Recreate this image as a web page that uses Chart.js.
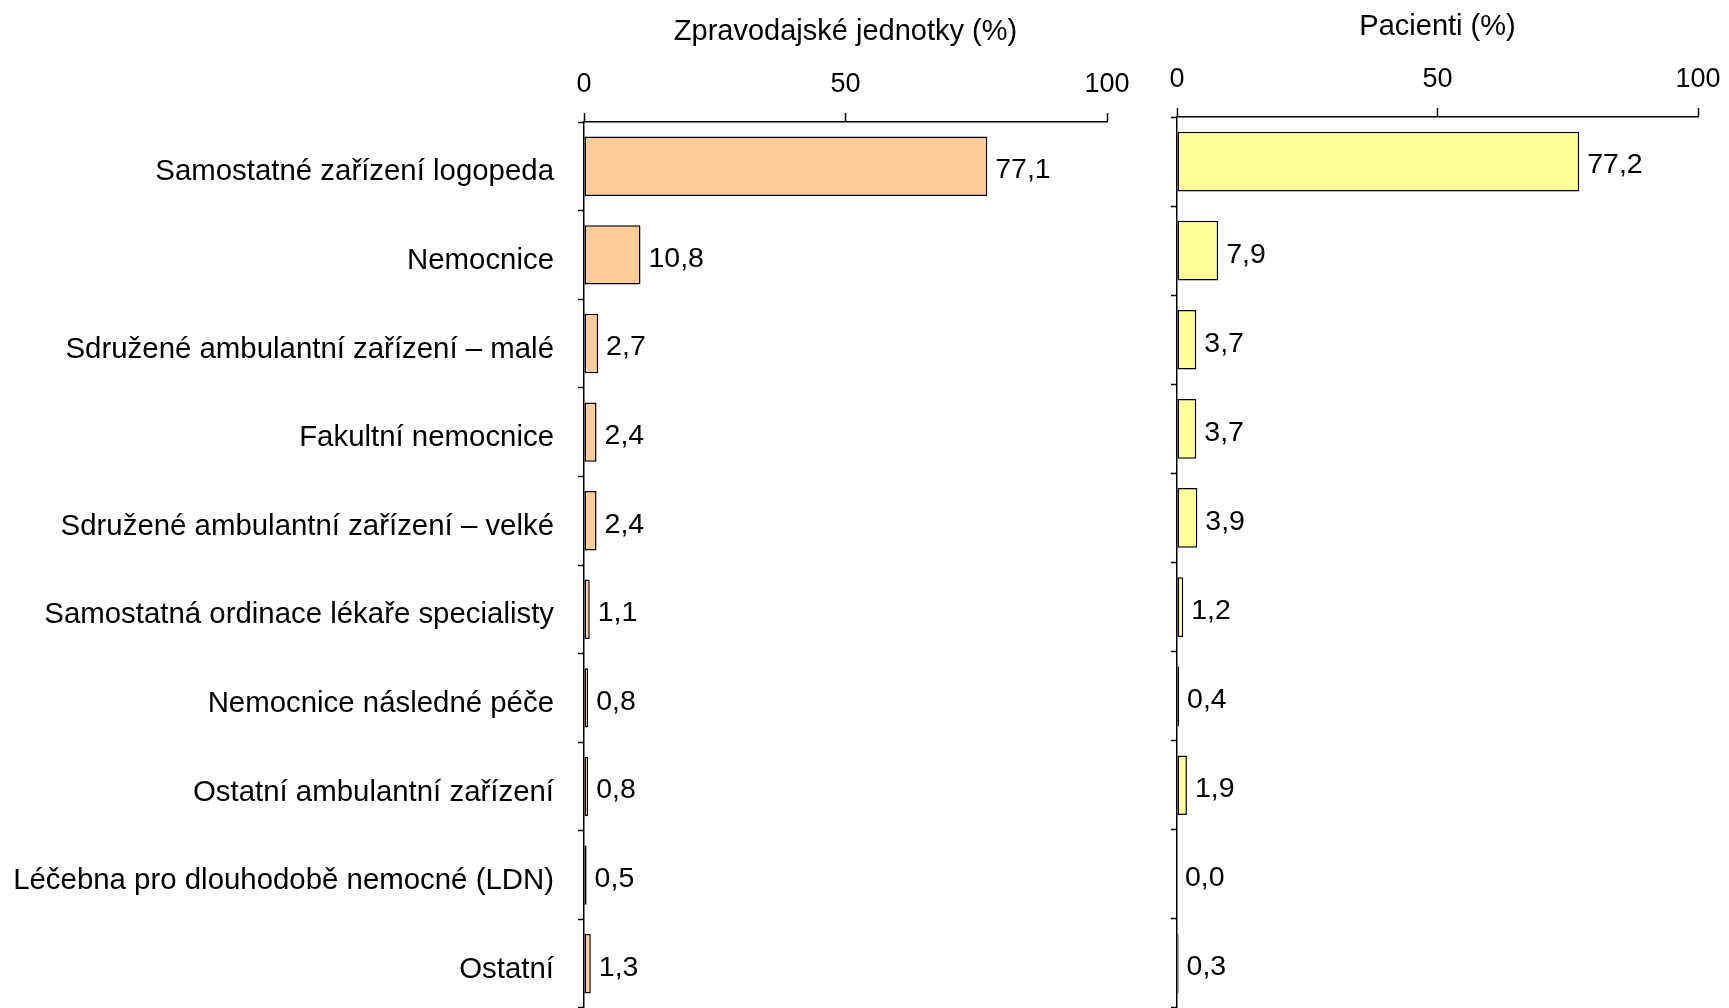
<!DOCTYPE html>
<html>
<head>
<meta charset="utf-8">
<script src="https://cdn.jsdelivr.net/npm/chart.js@4/dist/chart.umd.min.js"></script>
<style>
  html, body { margin: 0; padding: 0; background: #fff; }
  #wrap { position: relative; width: 1729px; height: 1008px; overflow: hidden; }
  canvas { position: absolute; left: 0; top: 0; }
</style>
</head>
<body>
<div id="wrap">
  <canvas id="units" width="1729" height="1008"></canvas>
  <canvas id="patients" width="1729" height="1008"></canvas>
</div>
<script>
const categories = [
    'Samostatné zařízení logopeda',
    'Nemocnice',
    'Sdružené ambulantní zařízení – malé',
    'Fakultní nemocnice',
    'Sdružené ambulantní zařízení – velké',
    'Samostatná ordinace lékaře specialisty',
    'Nemocnice následné péče',
    'Ostatní ambulantní zařízení',
    'Léčebna pro dlouhodobě nemocné (LDN)',
    'Ostatní',
];
const unitsPct = [77.1, 10.8, 2.7, 2.4, 2.4, 1.1, 0.8, 0.8, 0.5, 1.3];
const patientsPct = [77.2, 7.9, 3.7, 3.7, 3.9, 1.2, 0.4, 1.9, 0.0, 0.3];
const xTicks = [0, 50, 100];

const FONT = 'Liberation Sans, Arial, sans-serif';
const labelFont = { family: FONT, size: 29.4 };
const titleFont = { family: FONT, size: 29 };
const tickFont = { family: FONT, size: 27 };

// value labels right of the bars, with decimal comma
const valueLabels = {
    id: 'valueLabels',
    afterDatasetsDraw(chart) {
        const ctx = chart.ctx;
        const meta = chart.getDatasetMeta(0);
        const values = chart.data.datasets[0].data;
        ctx.save();
        ctx.font = '28.5px ' + FONT;
        ctx.fillStyle = '#000';
        ctx.textAlign = 'left';
        ctx.textBaseline = 'middle';
        meta.data.forEach((bar, i) => {
            const txt = values[i].toFixed(1).replace('.', ',');
            ctx.fillText(txt, bar.x + 8, bar.y + 4);
        });
        ctx.restore();
    },
};

function makeChart(id, values, color, title, opts) {
    return new Chart(document.getElementById(id), {
        type: 'bar',
        data: {
            labels: categories,
            datasets: [{
                data: values,
                backgroundColor: color,
                borderColor: '#000',
                borderWidth: 1.5,
                borderSkipped: false,
                categoryPercentage: 1,
                barPercentage: 0.67,
            }],
        },
        options: {
            indexAxis: 'y',
            responsive: false,
            animation: false,
            layout: { padding: opts.padding },
            plugins: { legend: { display: false }, tooltip: { enabled: false } },
            scales: {
                x: {
                    position: 'top',
                    min: 0,
                    max: 100,
                    afterBuildTicks: (scale) => {
                        scale.ticks = xTicks.map(v => ({ value: v }));
                    },
                    afterFit: (scale) => {
                        scale.height = 117;
                        scale.paddingLeft = 0;
                        scale.paddingRight = 0;
                    },
                    title: {
                        display: true,
                        text: title,
                        color: '#000',
                        font: titleFont,
                        padding: { top: 10, bottom: 0 },
                    },
                    ticks: { color: '#000', font: tickFont, padding: 12 },
                    grid: {
                        drawOnChartArea: false,
                        drawTicks: true,
                        tickLength: 9,
                        tickWidth: 1.5,
                        tickColor: '#000',
                    },
                    border: { color: '#000', width: 1.5 },
                },
                y: {
                    afterFit: (scale) => {
                        scale.width = opts.yWidth;
                        scale.paddingTop = 0;
                        scale.paddingBottom = 0;
                    },
                    ticks: {
                        display: opts.showLabels,
                        color: '#000',
                        font: labelFont,
                        padding: 24,
                        labelOffset: 6,
                    },
                    grid: {
                        offset: true,
                        drawOnChartArea: false,
                        drawTicks: true,
                        tickLength: 6,
                        tickWidth: 1.5,
                        tickColor: '#000',
                    },
                    border: { color: '#000', width: 1.5 },
                },
            },
        },
        plugins: [valueLabels],
    });
}

makeChart('units', unitsPct, '#FFCC99', 'Zpravodajské jednotky (%)', {
    padding: { left: 0, right: 622, top: 5, bottom: 0 },
    yWidth: 584,
    showLabels: true,
});

makeChart('patients', patientsPct, '#FFFF99', 'Pacienti (%)', {
    padding: { left: 1120, right: 31, top: 0, bottom: 0 },
    yWidth: 57,
    showLabels: false,
});
</script>
</body>
</html>
